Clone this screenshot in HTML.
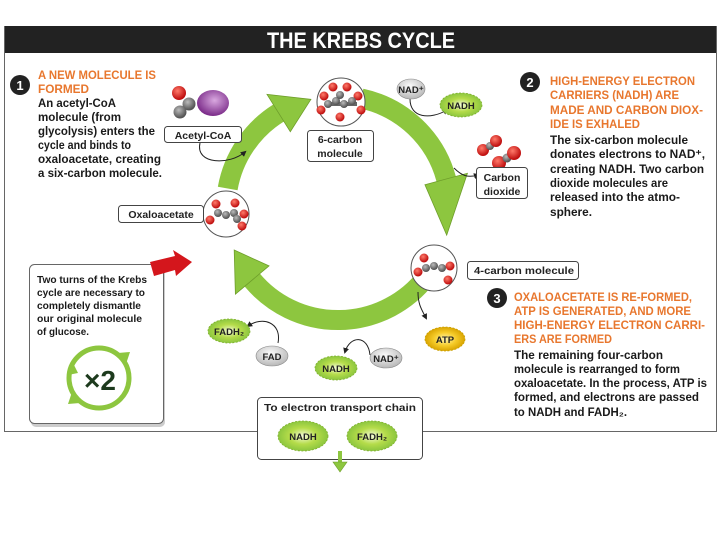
<!DOCTYPE html>
<html><head><meta charset="utf-8"><style>
html,body{margin:0;padding:0;background:#fff;}
svg{display:block;}
text{font-family:"Liberation Sans",sans-serif;font-weight:bold;}
.b{font-size:11.5px;fill:#1a1a1a;}
.o{font-size:11.5px;fill:#e8772e;}
.s{font-size:10.5px;fill:#1a1a1a;}
.l{font-size:10.5px;fill:#222;}
</style></head><body>
<svg width="720" height="540" viewBox="0 0 720 540" xmlns="http://www.w3.org/2000/svg">
<defs>
<radialGradient id="gr" cx="40%" cy="35%" r="60%"><stop offset="0" stop-color="#ff7a6a"/><stop offset="1" stop-color="#c01010"/></radialGradient>
<radialGradient id="gg" cx="40%" cy="35%" r="60%"><stop offset="0" stop-color="#bbb"/><stop offset="1" stop-color="#555"/></radialGradient>
<radialGradient id="gp" cx="55%" cy="40%" r="60%"><stop offset="0" stop-color="#d9a8e0"/><stop offset="1" stop-color="#7a2a88"/></radialGradient>
<radialGradient id="gn" cx="50%" cy="50%" r="50%"><stop offset="0" stop-color="#f4fbd8"/><stop offset="0.55" stop-color="#b5dc4a"/><stop offset="1" stop-color="#8cc63f"/></radialGradient>
<radialGradient id="gy" cx="50%" cy="50%" r="50%"><stop offset="0" stop-color="#fff5b0"/><stop offset="0.55" stop-color="#f6cc2a"/><stop offset="1" stop-color="#d9a400"/></radialGradient>
<radialGradient id="gw" cx="45%" cy="35%" r="65%"><stop offset="0" stop-color="#fafafa"/><stop offset="1" stop-color="#b8b8b8"/></radialGradient>
<marker id="ah" markerWidth="6" markerHeight="6" refX="4" refY="3" orient="auto"><path d="M0,0 L6,3 L0,6 z" fill="#222"/></marker>
</defs>

<!-- frame -->
<rect x="4.5" y="26.5" width="712" height="405" fill="#fff" stroke="#666" stroke-width="1"/>
<rect x="5" y="26" width="711" height="27" fill="#222"/>
<text x="361" y="48" text-anchor="middle" style="font-size:22px;fill:#fff" textLength="188" lengthAdjust="spacingAndGlyphs">THE KREBS CYCLE</text>

<!-- cycle arrows -->
<g fill="#8dc63f" stroke="#6e9e2a" stroke-width="0.8">
<path d="M227.7,188.5 A112,112 0 0 1 278.6,113" fill="none" stroke="#8dc63f" stroke-width="20"/>
<polygon points="290.3,131.7 267,94.4 310.9,99.3"/>
<path d="M361.3,98.5 A112,112 0 0 1 446.2,179" fill="none" stroke="#8dc63f" stroke-width="20"/>
<polygon points="424.9,184.7 467.4,173.3 446.7,235.1"/>
<path d="M426.3,277 A112,112 0 0 1 252.2,280" fill="none" stroke="#8dc63f" stroke-width="20"/>
<polygon points="269,265.9 235.4,294.2 234.2,250"/>
</g>

<!-- molecule circles -->
<g stroke="#555" stroke-width="1" fill="#fff">
<circle cx="341" cy="102" r="24"/>
<circle cx="226" cy="214" r="23"/>
<circle cx="434" cy="268" r="23"/>
</g>
<!-- 6 carbon -->
<g>
<line x1="325" y1="104" x2="357" y2="104" stroke="#666" stroke-width="4"/>
<circle cx="333" cy="87" r="4.5" fill="url(#gr)"/><circle cx="347" cy="87" r="4.5" fill="url(#gr)"/>
<circle cx="324" cy="96" r="4.5" fill="url(#gr)"/><circle cx="358" cy="96" r="4.5" fill="url(#gr)"/>
<circle cx="321" cy="110" r="4.5" fill="url(#gr)"/><circle cx="361" cy="110" r="4.5" fill="url(#gr)"/>
<circle cx="340" cy="117" r="4.5" fill="url(#gr)"/>
<circle cx="328" cy="104" r="4" fill="url(#gg)"/><circle cx="336" cy="101" r="4" fill="url(#gg)"/><circle cx="344" cy="104" r="4" fill="url(#gg)"/><circle cx="352" cy="101" r="4" fill="url(#gg)"/><circle cx="340" cy="95" r="4" fill="url(#gg)"/>
</g>
<!-- oxaloacetate -->
<g>
<circle cx="216" cy="204" r="4.5" fill="url(#gr)"/><circle cx="235" cy="203" r="4.5" fill="url(#gr)"/>
<circle cx="210" cy="220" r="4.5" fill="url(#gr)"/><circle cx="244" cy="214" r="4.5" fill="url(#gr)"/><circle cx="242" cy="226" r="4.5" fill="url(#gr)"/>
<circle cx="218" cy="213" r="4" fill="url(#gg)"/><circle cx="226" cy="215" r="4" fill="url(#gg)"/><circle cx="234" cy="213" r="4" fill="url(#gg)"/><circle cx="237" cy="219" r="4" fill="url(#gg)"/>
</g>
<!-- 4 carbon -->
<g>
<circle cx="424" cy="258" r="4.5" fill="url(#gr)"/><circle cx="418" cy="272" r="4.5" fill="url(#gr)"/>
<circle cx="450" cy="266" r="4.5" fill="url(#gr)"/><circle cx="448" cy="280" r="4.5" fill="url(#gr)"/>
<circle cx="426" cy="268" r="4" fill="url(#gg)"/><circle cx="434" cy="266" r="4" fill="url(#gg)"/><circle cx="442" cy="268" r="4" fill="url(#gg)"/>
</g>

<!-- acetyl-coa -->
<ellipse cx="213" cy="103" rx="16" ry="13" fill="url(#gp)"/>
<circle cx="179" cy="93" r="7" fill="url(#gr)"/>
<circle cx="189" cy="104" r="6.5" fill="url(#gg)"/>
<circle cx="180" cy="112" r="6.5" fill="url(#gg)"/>
<rect x="164.5" y="126.5" width="77" height="16" rx="3" fill="#fff" stroke="#444"/>
<text x="203" y="139" text-anchor="middle" class="l">Acetyl-CoA</text>
<path d="M200,143 C195,165 230,165 245,152" fill="none" stroke="#222" stroke-width="1" marker-end="url(#ah)"/>

<rect x="118.5" y="205.5" width="85" height="17" rx="3" fill="#fff" stroke="#444"/>
<text x="161" y="218" text-anchor="middle" class="l">Oxaloacetate</text>

<rect x="307.5" y="130.5" width="66" height="31" rx="3" fill="#fff" stroke="#444"/>
<text x="340" y="143" text-anchor="middle" class="l">6-carbon</text>
<text x="340" y="157" text-anchor="middle" class="l">molecule</text>

<!-- NAD+/NADH top -->
<path d="M410,99 C410,118 430,120 447,110" fill="none" stroke="#222" stroke-width="1" marker-end="url(#ah)"/>
<ellipse cx="411" cy="89" rx="14" ry="10" fill="url(#gw)" stroke="#888" stroke-width="0.6"/>
<text x="411" y="93" text-anchor="middle" style="font-size:9.5px;fill:#222">NAD⁺</text>
<ellipse cx="461" cy="105" rx="21" ry="12" fill="url(#gn)" stroke="#7fb02c" stroke-width="0.8" stroke-dasharray="2 1.5"/>
<text x="461" y="109" text-anchor="middle" style="font-size:9.5px;fill:#222">NADH</text>

<!-- CO2 -->
<path d="M454,168 C462,176 468,178 478,175" fill="none" stroke="#222" stroke-width="1" marker-end="url(#ah)"/>
<circle cx="483" cy="150" r="6" fill="url(#gr)"/><circle cx="490" cy="146" r="4" fill="url(#gg)"/><circle cx="496" cy="141" r="6" fill="url(#gr)"/>
<circle cx="499" cy="163" r="7" fill="url(#gr)"/><circle cx="507" cy="158" r="4.5" fill="url(#gg)"/><circle cx="514" cy="153" r="7" fill="url(#gr)"/>
<rect x="476.5" y="167.5" width="51" height="31" rx="3" fill="#fff" stroke="#444"/>
<text x="502" y="181" text-anchor="middle" class="l">Carbon</text>
<text x="502" y="195" text-anchor="middle" class="l">dioxide</text>

<rect x="467.5" y="261.5" width="111" height="18" rx="3" fill="#fff" stroke="#444"/>
<text x="524" y="274" text-anchor="middle" class="l" textLength="100" lengthAdjust="spacingAndGlyphs">4-carbon molecule</text>

<!-- bottom carriers -->
<path d="M278,343 C282,322 262,316 248,326" fill="none" stroke="#222" stroke-width="1" marker-end="url(#ah)"/>
<path d="M370,355 C368,335 350,335 345,352" fill="none" stroke="#222" stroke-width="1" marker-end="url(#ah)"/>
<path d="M418,292 C418,305 422,310 426,318" fill="none" stroke="#222" stroke-width="1" marker-end="url(#ah)"/>
<ellipse cx="229" cy="331" rx="21" ry="12" fill="url(#gn)" stroke="#7fb02c" stroke-width="0.8" stroke-dasharray="2 1.5"/>
<text x="229" y="335" text-anchor="middle" style="font-size:9.5px;fill:#222">FADH₂</text>
<ellipse cx="272" cy="356" rx="16" ry="10" fill="url(#gw)" stroke="#888" stroke-width="0.6"/>
<text x="272" y="360" text-anchor="middle" style="font-size:9.5px;fill:#222">FAD</text>
<ellipse cx="336" cy="368" rx="21" ry="12" fill="url(#gn)" stroke="#7fb02c" stroke-width="0.8" stroke-dasharray="2 1.5"/>
<text x="336" y="372" text-anchor="middle" style="font-size:9.5px;fill:#222">NADH</text>
<ellipse cx="386" cy="358" rx="16" ry="10" fill="url(#gw)" stroke="#888" stroke-width="0.6"/>
<text x="386" y="362" text-anchor="middle" style="font-size:9.5px;fill:#222">NAD⁺</text>
<ellipse cx="445" cy="339" rx="20" ry="12" fill="url(#gy)" stroke="#c9a000" stroke-width="0.8" stroke-dasharray="2 1.5"/>
<text x="445" y="343" text-anchor="middle" style="font-size:9.5px;fill:#222">ATP</text>

<!-- ETC box -->
<rect x="257.5" y="397.5" width="165" height="62" rx="4" fill="#fff" stroke="#444"/>
<text x="340" y="411" text-anchor="middle" class="l" textLength="152" lengthAdjust="spacingAndGlyphs">To electron transport chain</text>
<ellipse cx="303" cy="436" rx="25" ry="15" fill="url(#gn)" stroke="#7fb02c" stroke-width="0.8" stroke-dasharray="2 1.5"/>
<text x="303" y="440" text-anchor="middle" style="font-size:9.5px;fill:#222">NADH</text>
<ellipse cx="372" cy="436" rx="25" ry="15" fill="url(#gn)" stroke="#7fb02c" stroke-width="0.8" stroke-dasharray="2 1.5"/>
<text x="372" y="440" text-anchor="middle" style="font-size:9.5px;fill:#222">FADH₂</text>
<rect x="338" y="451" width="4" height="14" fill="#8dc63f"/>
<polygon points="333,462 347,462 340,472" fill="#8dc63f" stroke="#6e9e2a" stroke-width="0.6"/>

<!-- two turns box -->
<rect x="31" y="267" width="134" height="160" rx="5" fill="#999" opacity="0.5"/>
<rect x="29.5" y="264.5" width="134" height="159" rx="5" fill="#fff" stroke="#666"/>
<polygon points="150,262 175,256 173,250 192,262 176,276 175,270 154,276" fill="#d4161c"/>
<text x="37" y="283" class="s" textLength="110" lengthAdjust="spacingAndGlyphs">Two turns of the Krebs</text>
<text x="37" y="296" class="s" textLength="108" lengthAdjust="spacingAndGlyphs">cycle are necessary to</text>
<text x="37" y="309" class="s" textLength="104" lengthAdjust="spacingAndGlyphs">completely dismantle</text>
<text x="37" y="322" class="s" textLength="105" lengthAdjust="spacingAndGlyphs">our original molecule</text>
<text x="37" y="335" class="s" textLength="52" lengthAdjust="spacingAndGlyphs">of glucose.</text>
<circle cx="99" cy="378" r="30" fill="none" stroke="#8dc63f" stroke-width="5"/>
<polygon points="118,353 130,352 126,364" fill="#8dc63f"/>
<polygon points="80,403 68,404 72,392" fill="#8dc63f"/>
<polygon points="73,363 68,375 78,373" fill="#8dc63f"/>
<text x="100" y="390" text-anchor="middle" style="font-size:28px;fill:#1d3a1d">×2</text>

<!-- block 1 -->
<circle cx="20" cy="85" r="10" fill="#222"/>
<text x="20" y="90" text-anchor="middle" style="font-size:13px;fill:#fff">1</text>
<text x="38" y="79" class="o" textLength="118" lengthAdjust="spacingAndGlyphs">A NEW MOLECULE IS</text>
<text x="38" y="93" class="o" textLength="51" lengthAdjust="spacingAndGlyphs">FORMED</text>
<text x="38" y="107" class="b" textLength="78" lengthAdjust="spacingAndGlyphs">An acetyl-CoA</text>
<text x="38" y="121" class="b" textLength="83" lengthAdjust="spacingAndGlyphs">molecule (from</text>
<text x="38" y="135" class="b" textLength="117" lengthAdjust="spacingAndGlyphs">glycolysis) enters the</text>
<text x="38" y="149" class="b" textLength="93" lengthAdjust="spacingAndGlyphs">cycle and binds to</text>
<text x="38" y="163" class="b" textLength="123" lengthAdjust="spacingAndGlyphs">oxaloacetate, creating</text>
<text x="38" y="177" class="b" textLength="124" lengthAdjust="spacingAndGlyphs">a six-carbon molecule.</text>

<!-- block 2 -->
<circle cx="530" cy="82" r="10" fill="#222"/>
<text x="530" y="87" text-anchor="middle" style="font-size:13px;fill:#fff">2</text>
<text x="550" y="85" class="o" textLength="145" lengthAdjust="spacingAndGlyphs">HIGH-ENERGY ELECTRON</text>
<text x="550" y="99" class="o" textLength="129" lengthAdjust="spacingAndGlyphs">CARRIERS (NADH) ARE</text>
<text x="550" y="114" class="o" textLength="153" lengthAdjust="spacingAndGlyphs">MADE AND CARBON DIOX-</text>
<text x="550" y="128" class="o" textLength="90" lengthAdjust="spacingAndGlyphs">IDE IS EXHALED</text>
<text x="550" y="144" class="b" textLength="138" lengthAdjust="spacingAndGlyphs">The six-carbon molecule</text>
<text x="550" y="158" class="b" textLength="155" lengthAdjust="spacingAndGlyphs">donates electrons to NAD⁺,</text>
<text x="550" y="173" class="b" textLength="154" lengthAdjust="spacingAndGlyphs">creating NADH.  Two carbon</text>
<text x="550" y="187" class="b" textLength="118" lengthAdjust="spacingAndGlyphs">dioxide molecules are</text>
<text x="550" y="201" class="b" textLength="130" lengthAdjust="spacingAndGlyphs">released into the atmo-</text>
<text x="550" y="216" class="b" textLength="42" lengthAdjust="spacingAndGlyphs">sphere.</text>

<!-- block 3 -->
<circle cx="497" cy="298" r="10" fill="#222"/>
<text x="497" y="303" text-anchor="middle" style="font-size:13px;fill:#fff">3</text>
<text x="514" y="301" class="o" textLength="178" lengthAdjust="spacingAndGlyphs">OXALOACETATE IS RE-FORMED,</text>
<text x="514" y="315" class="o" textLength="177" lengthAdjust="spacingAndGlyphs">ATP IS GENERATED, AND MORE</text>
<text x="514" y="329" class="o" textLength="191" lengthAdjust="spacingAndGlyphs">HIGH-ENERGY ELECTRON CARRI-</text>
<text x="514" y="343" class="o" textLength="98" lengthAdjust="spacingAndGlyphs">ERS ARE FORMED</text>
<text x="514" y="359" class="b" textLength="149" lengthAdjust="spacingAndGlyphs">The remaining four-carbon</text>
<text x="514" y="373" class="b" textLength="166" lengthAdjust="spacingAndGlyphs">molecule is rearranged to form</text>
<text x="514" y="387" class="b" textLength="193" lengthAdjust="spacingAndGlyphs">oxaloacetate. In the process, ATP is</text>
<text x="514" y="401" class="b" textLength="185" lengthAdjust="spacingAndGlyphs">formed, and electrons are passed</text>
<text x="514" y="416" class="b" textLength="113" lengthAdjust="spacingAndGlyphs">to NADH and FADH₂.</text>
</svg>
</body></html>
